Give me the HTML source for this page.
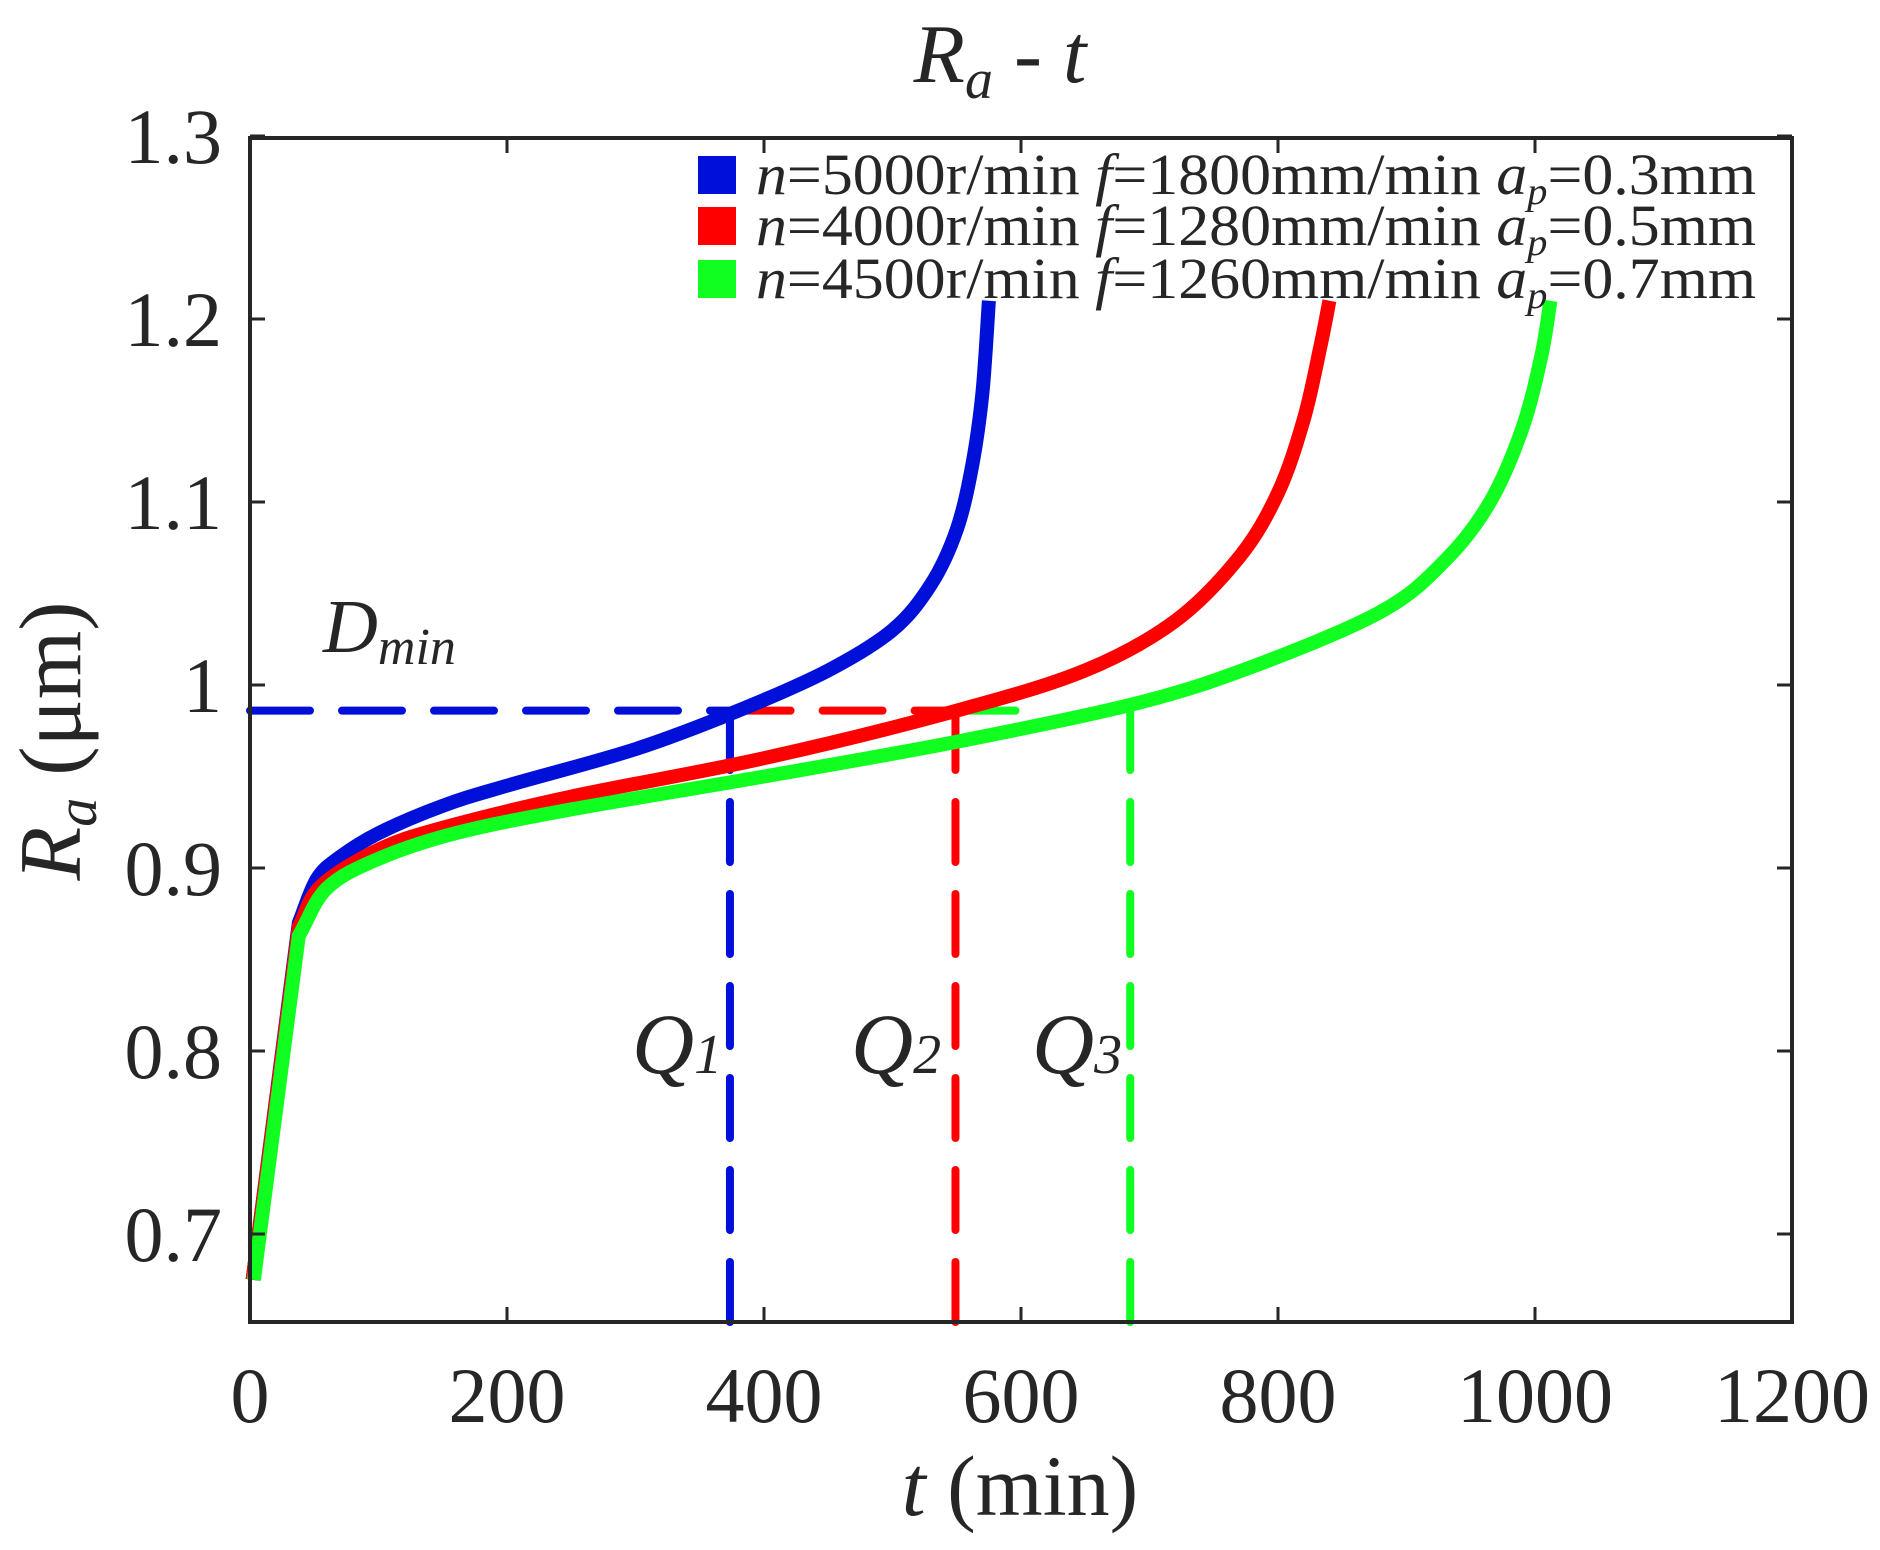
<!DOCTYPE html>
<html><head><meta charset="utf-8"><style>
html,body{margin:0;padding:0;background:#fff;}
svg{display:block;}
text{font-family:"Liberation Serif","Times New Roman",serif;fill:#262626;}
</style></head><body>
<svg id="s" width="1880" height="1550" viewBox="0 0 1880 1550" xmlns="http://www.w3.org/2000/svg" font-family="Liberation Serif, serif">
<rect width="1880" height="1550" fill="#fff"/>
<g id="plot"></g>
<rect x="250" y="138" width="1542" height="1184" fill="none" stroke="#262626" stroke-width="4"/>
<g id="ticks" stroke="#262626" stroke-width="3"></g>
<g font-size="78" text-anchor="middle" id="xl"></g>
<g font-size="78" text-anchor="end" id="yl"></g>
<text x="1000" y="82" font-size="84" text-anchor="middle" fill="#000"><tspan font-style="italic">R</tspan><tspan font-style="italic" font-size="56" dy="16">a</tspan><tspan dy="-16"> - </tspan><tspan font-style="italic">t</tspan></text>
<text x="1020" y="1515" font-size="86" text-anchor="middle" fill="#000"><tspan font-style="italic">t</tspan> (min)</text>
<text transform="translate(80,741) rotate(-90)" font-size="88" text-anchor="middle" fill="#000"><tspan font-style="italic">R</tspan><tspan font-style="italic" font-size="58" dy="16">a</tspan><tspan dy="-16"> (μm)</tspan></text>
<text x="323" y="652" font-size="76" font-style="italic" fill="#000">D<tspan font-size="52" dy="12">min</tspan></text>
<text x="632" y="1073" font-size="86" font-style="italic" fill="#000">Q<tspan font-size="56">1</tspan></text>
<text x="851" y="1073" font-size="86" font-style="italic" fill="#000">Q<tspan font-size="56">2</tspan></text>
<text x="1032" y="1073" font-size="86" font-style="italic" fill="#000">Q<tspan font-size="56">3</tspan></text>
<rect x="698" y="156" width="38" height="38" fill="#0010d8"/>
<rect x="698" y="207" width="38" height="38" fill="#ff0000"/>
<rect x="698" y="260" width="38" height="38" fill="#10ff20"/>
<g font-size="58" fill="#000">
<text x="756" y="194" textLength="1000" lengthAdjust="spacingAndGlyphs"><tspan font-style="italic">n</tspan>=5000r/min <tspan font-style="italic">f</tspan>=1800mm/min <tspan font-style="italic">a<tspan font-size="38" dy="10">p</tspan></tspan><tspan dy="-10">=0.3mm</tspan></text>
<text x="756" y="245" textLength="1000" lengthAdjust="spacingAndGlyphs"><tspan font-style="italic">n</tspan>=4000r/min <tspan font-style="italic">f</tspan>=1280mm/min <tspan font-style="italic">a<tspan font-size="38" dy="10">p</tspan></tspan><tspan dy="-10">=0.5mm</tspan></text>
<text x="756" y="298" textLength="1000" lengthAdjust="spacingAndGlyphs"><tspan font-style="italic">n</tspan>=4500r/min <tspan font-style="italic">f</tspan>=1260mm/min <tspan font-style="italic">a<tspan font-size="38" dy="10">p</tspan></tspan><tspan dy="-10">=0.7mm</tspan></text>
</g>
</svg>
<script>
var NS="http://www.w3.org/2000/svg";
function X(t){return 250+t*1542/1200;}
function Y(v){return 685-(v-1)*1830;}
function el(p,tag,a,txt){var e=document.createElementNS(NS,tag);for(var k in a)e.setAttribute(k,a[k]);if(txt!==undefined)e.textContent=txt;p.appendChild(e);return e;}
var plot=document.getElementById('plot');
function curve(d,c){var P=d.map(function(p){return [X(p[0]),Y(p[1])];});
var s='M'+P[0][0].toFixed(1)+','+P[0][1].toFixed(1);
for(var i=0;i<P.length-1;i++){var p0=P[Math.max(0,i-1)],p1=P[i],p2=P[i+1],p3=P[Math.min(P.length-1,i+2)];
var c1=[p1[0]+(p2[0]-p0[0])/6,p1[1]+(p2[1]-p0[1])/6],c2=[p2[0]-(p3[0]-p1[0])/6,p2[1]-(p3[1]-p1[1])/6];
if(i==0){c1=[p1[0],p1[1]];c2=[p2[0],p2[1]];}
if(i==1){c1=[p1[0]+(p2[0]-p1[0])/3,p1[1]+(p2[1]-p1[1])/3];}
s+='C'+c1[0].toFixed(1)+','+c1[1].toFixed(1)+' '+c2[0].toFixed(1)+','+c2[1].toFixed(1)+' '+p2[0].toFixed(1)+','+p2[1].toFixed(1);}
el(plot,'path',{d:s,fill:'none',stroke:c,'stroke-width':14,'stroke-linejoin':'round'});}
var B='#0010d8',R='#ff0000',G='#10ff20';
var D=0.986;
function dash(x1,y1,x2,y2,c){el(plot,'line',{x1:x1,y1:y1,x2:x2,y2:y2,stroke:c,'stroke-width':8,'stroke-dasharray':'60 32','stroke-linecap':'round'});}
dash(250,Y(D),X(374),Y(D),B);
dash(X(374),Y(D),X(549),Y(D),R);
dash(X(549),Y(D),X(615),Y(D),G);
dash(X(373.5),1322,X(373.5),Y(D),B);
dash(X(549),1322,X(549),Y(D),R);
dash(X(685),1322,X(685),Y(D),G);
el(plot,'line',{x1:X(373.5),y1:Y(D),x2:X(373.5),y2:Y(0.955),stroke:B,'stroke-width':8});
curve([[2,0.675],[38,0.87],[52,0.894],[70,0.906],[100,0.919],[150,0.934],[200,0.945],[300,0.965],[380,0.986],[450,1.008],[500,1.03],[530,1.055],[550,1.085],[562,1.12],[570,1.16],[575,1.21]],B);
curve([[2,0.675],[38,0.868],[55,0.89],[100,0.91],[150,0.922],[250,0.939],[400,0.96],[550,0.986],[650,1.008],[720,1.035],[770,1.07],[800,1.105],[820,1.145],[833,1.185],[840,1.21]],R);
curve([[3,0.675],[38,0.863],[60,0.889],[100,0.905],[160,0.919],[250,0.932],[400,0.95],[550,0.969],[690,0.99],[780,1.01],[880,1.04],[930,1.068],[965,1.1],[990,1.14],[1005,1.18],[1012,1.21]],G);
var tk=document.getElementById('ticks'),xl=document.getElementById('xl'),yl=document.getElementById('yl');
for(var t=0;t<=1200;t+=200){var x=X(t);el(tk,'line',{x1:x,y1:1322,x2:x,y2:1307});el(tk,'line',{x1:x,y1:138,x2:x,y2:153});el(xl,'text',{x:x,y:1422},''+t);}
[0.7,0.8,0.9,1.0,1.1,1.2,1.3].forEach(function(v){var y=Y(v);el(tk,'line',{x1:250,y1:y,x2:265,y2:y});el(tk,'line',{x1:1792,y1:y,x2:1777,y2:y});el(yl,'text',{x:222,y:y+27},v==1?'1':v.toFixed(1));});
</script>
</body></html>
